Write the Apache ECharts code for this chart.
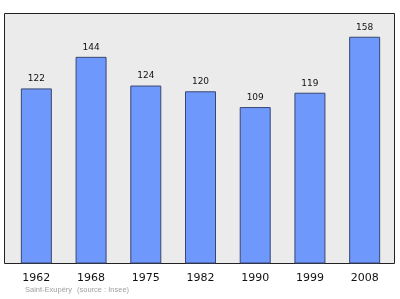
<!DOCTYPE html>
<html>
<head>
<meta charset="utf-8">
<script src="https://cdn.jsdelivr.net/npm/echarts@6/dist/echarts.min.js"></script>
<style>html,body{margin:0;padding:0;background:#fff}#c{width:400px;height:299px}</style>
</head>
<body>
<div id="c"></div>
<script>
var years = ['1962','1968','1975','1982','1990','1999','2008'];
var population = [122,144,124,120,109,119,158];
var footerPlace = 'Saint-Exupéry';
var footerSource = '(source : Insee)';

var chart = echarts.init(document.getElementById('c'), null, {renderer:'canvas'});
chart.setOption({
  animation: false,
  backgroundColor: '#ffffff',
  graphic: [
    {type:'rect', z:-10, shape:{x:4.5, y:13.5, width:390, height:250}, style:{fill:'#ebebeb', stroke:'#222', lineWidth:1}},
    {type:'text', left:25, top:286, style:{text:footerPlace, fill:'#a0a0a0', font:'7.5px "Liberation Sans"'}},
    {type:'text', left:77, top:286, style:{text:footerSource, fill:'#a0a0a0', font:'7.5px "Liberation Sans"'}}
  ],
  grid: {left:9, right:8, top:13.5, bottom:35.5, containLabel:false},
  xAxis: {
    type:'category', data: years,
    axisLine:{show:true, lineStyle:{color:'#222', width:1}},
    axisTick:{show:false},
    axisLabel:{color:'#111', fontSize:11, fontFamily:'DejaVu Sans', margin:9}
  },
  yAxis: {
    type:'value', min:0, max:174.2,
    axisLine:{show:false}, axisTick:{show:false}, axisLabel:{show:false}, splitLine:{show:false}
  },
  series: [{
    type:'bar', data: population, barWidth:31,
    itemStyle:{color:'#6f98fc', borderColor:'#3a4670', borderWidth:1},
    label:{show:true, position:'top', distance:5, color:'#111', fontSize:9, fontFamily:'DejaVu Sans'}
  }]
});
</script>
</body>
</html>
